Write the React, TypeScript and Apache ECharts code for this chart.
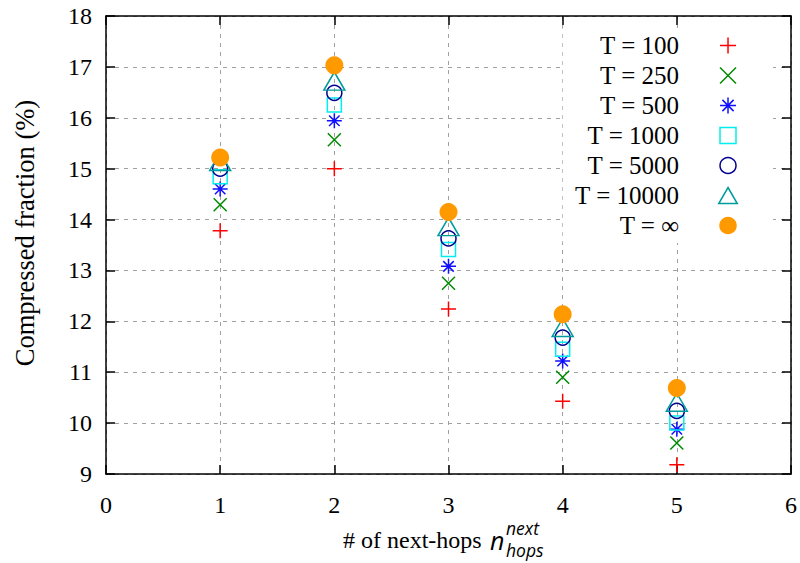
import React, { useEffect, useRef } from "react";
import * as echarts from "echarts";

const hops = [1, 2, 3, 4, 5];
const seriesNames = ["T = 100", "T = 250", "T = 500", "T = 1000", "T = 5000", "T = 10000", "T = ∞"];
const t100 = [13.78, 15.0, 12.24, 10.43, 9.18];
const t250 = [14.29, 15.57, 12.75, 10.9, 9.61];
const t500 = [14.6, 15.94, 13.08, 11.22, 9.88];
const t1000 = [14.84, 16.25, 13.41, 11.45, 10.0];
const t5000 = [15.0, 16.49, 13.63, 11.68, 10.24];
const t10000 = [15.14, 16.72, 13.86, 11.88, 10.41];
const tInf = [15.22, 17.03, 14.15, 12.14, 10.69];
const xTicks = [0, 1, 2, 3, 4, 5, 6];
const yTicks = [9, 10, 11, 12, 13, 14, 15, 16, 17, 18];

const allValues = [t100, t250, t500, t1000, t5000, t10000, tInf];

const SERIF = "Liberation Serif";

const markerDefs = [
  { symbol: "path://M0,5L10,5M5,0L5,10", size: 15, color: "#ff0000", fill: "#ff0000" },
  { symbol: "path://M0,0L10,10M0,10L10,0", size: 13, color: "#008a00", fill: "#008a00" },
  { symbol: "path://M0,5L10,5M5,0L5,10M1.5,1.5L8.5,8.5M1.5,8.5L8.5,1.5", size: 15, color: "#1010ff", fill: "#1010ff" },
  { symbol: "path://M0,0L10,0L10,10L0,10Z", size: 14, color: "#00eeee", fill: "rgba(0,0,0,0)" },
  { symbol: "circle", size: 15, color: "#000090", fill: "rgba(0,0,0,0)" },
  { symbol: "path://M5,0L10,8.66L0,8.66Z", size: [21, 18], color: "#009c9c", fill: "rgba(0,0,0,0)" },
  { symbol: "circle", size: 18, color: "#ff9900", fill: "#ff9900" },
];

export default function App() {
  const ref = useRef<HTMLDivElement>(null);
  useEffect(() => {
    if (!ref.current) return;
    const chart = echarts.init(ref.current, null, { renderer: "svg" });
    const series = seriesNames.map((name, i) => {
      const m = markerDefs[i];
      return {
        name,
        type: "scatter",
        xAxisIndex: 0,
        yAxisIndex: 0,
        symbol: m.symbol,
        symbolSize: m.size,
        itemStyle: {
          color: m.fill,
          borderColor: m.color,
          borderWidth: i === 6 ? 0 : 1.5,
          opacity: 1,
        },
        emphasis: { disabled: true },
        data: hops.map((h, j) => [h, allValues[i][j]]),
        z: 2 + i,
      };
    });
    const option: any = {
      animation: false,
      backgroundColor: "#ffffff",
      grid: { left: 106, right: 8, top: 16, bottom: 89, containLabel: false },
      xAxis: [
        {
          type: "value",
          min: xTicks[0],
          max: xTicks[xTicks.length - 1],
          interval: 1,
          position: "bottom",
          axisLine: { show: true, onZero: false, lineStyle: { color: "#000", width: 1.5 } },
          axisTick: { show: true, inside: true, length: 9, lineStyle: { color: "#000", width: 1.5 } },
          axisLabel: { fontFamily: SERIF, fontSize: 24, color: "#000", margin: 19 },
          splitLine: { show: true, lineStyle: { color: "#a0a0a0", width: 1, type: [4, 5] } },
        },
        {
          type: "value",
          min: xTicks[0],
          max: xTicks[xTicks.length - 1],
          interval: 1,
          position: "top",
          axisLine: { show: true, onZero: false, lineStyle: { color: "#000", width: 1.5 } },
          axisTick: { show: true, inside: true, length: 9, lineStyle: { color: "#000", width: 1.5 } },
          axisLabel: { show: false },
          splitLine: { show: false },
        },
      ],
      yAxis: [
        {
          type: "value",
          min: yTicks[0],
          max: yTicks[yTicks.length - 1],
          interval: 1,
          position: "left",
          axisLine: { show: true, onZero: false, lineStyle: { color: "#000", width: 1.5 } },
          axisTick: { show: true, inside: true, length: 9, lineStyle: { color: "#000", width: 1.5 } },
          axisLabel: { fontFamily: SERIF, fontSize: 24, color: "#000", margin: 14 },
          splitLine: { show: true, lineStyle: { color: "#a0a0a0", width: 1, type: [4, 5] } },
        },
        {
          type: "value",
          min: yTicks[0],
          max: yTicks[yTicks.length - 1],
          interval: 1,
          position: "right",
          axisLine: { show: true, onZero: false, lineStyle: { color: "#000", width: 1.5 } },
          axisTick: { show: true, inside: true, length: 9, lineStyle: { color: "#000", width: 1.5 } },
          axisLabel: { show: false },
          splitLine: { show: false },
        },
      ],
      legend: {
        orient: "vertical",
        align: "right",
        right: 27,
        top: 28,
        padding: [5, 35, 5, 12],
        backgroundColor: "#ffffff",
        itemWidth: 88,
        itemHeight: 16,
        itemGap: 5,
        selectedMode: false,
        symbolKeepAspect: true,
        data: seriesNames,
        textStyle: { fontFamily: SERIF, fontSize: 25, color: "#000", lineHeight: 24 },
        itemStyle: { borderWidth: 1.5 },
      },
      graphic: [
        {
          type: "text",
          x: 25,
          y: 233,
          rotation: Math.PI / 2,
          style: {
            text: "Compressed fraction (%)",
            fontFamily: SERIF,
            fontSize: 26.5,
            fill: "#000",
            align: "center",
            verticalAlign: "middle",
          },
        },
        {
          type: "text",
          x: 343,
          y: 540,
          style: {
            text: "# of next-hops",
            fontFamily: SERIF,
            fontSize: 24,
            fill: "#000",
            align: "left",
            verticalAlign: "middle",
          },
        },
        {
          type: "text",
          x: 490,
          y: 540,
          style: {
            text: "n",
            fontFamily: "Open Sans",
            fontStyle: "italic",
            fontSize: 25,
            fill: "#000",
            align: "left",
            verticalAlign: "middle",
          },
        },
        {
          type: "text",
          x: 506,
          y: 528,
          style: {
            text: "next",
            fontFamily: "Open Sans",
            fontStyle: "italic",
            fontSize: 17.5,
            lineHeight: 16,
            fill: "#000",
            align: "left",
            verticalAlign: "middle",
          },
        },
        {
          type: "text",
          x: 506,
          y: 550,
          style: {
            text: "hops",
            fontFamily: "Open Sans",
            fontStyle: "italic",
            fontSize: 17.5,
            lineHeight: 16,
            fill: "#000",
            align: "left",
            verticalAlign: "middle",
          },
        },
      ],
      series,
    };
    chart.setOption(option);
    return () => chart.dispose();
  }, []);
  return (
    <div
      ref={ref}
      style={{ position: "absolute", left: 0, top: 0, width: 800, height: 563 }}
    />
  );
}
